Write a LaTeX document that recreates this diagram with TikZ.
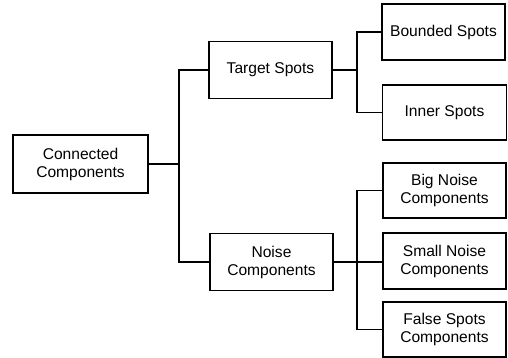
\documentclass[tikz,border=0pt]{standalone}
\usepackage{fontspec}
\setmainfont{Liberation Sans}
\begin{document}
\begin{tikzpicture}[x=1pt,y=-1pt,
  box/.style={draw, line width=1.2pt, rectangle, align=center, inner sep=0pt,
    font=\fontsize{15.6}{18}\selectfont},
  link/.style={draw, line width=1.2pt}]
\useasboundingbox (0,0) rectangle (508,358);
% root
\node[box, minimum width=135pt, minimum height=58pt] (cc) at (80.5,164) {Connected\\Components};
% second level
\node[box, minimum width=123pt, minimum height=57pt] (ts) at (270.5,70) {Target Spots};
\node[box, minimum width=123pt, minimum height=57pt] (nc) at (271.5,262) {Noise\\Components};
% leaves
\node[box, minimum width=123pt, minimum height=56pt] (bs) at (443.5,32) {Bounded Spots};
\node[box, minimum width=124pt, minimum height=55pt] (is) at (444.5,112.5) {Inner Spots};
\node[box, minimum width=123pt, minimum height=55pt] (bn) at (444.5,190.5) {Big Noise\\Components};
\node[box, minimum width=123pt, minimum height=56pt] (sn) at (444.5,261) {Small Noise\\Components};
\node[box, minimum width=123pt, minimum height=55pt] (fs) at (444.5,329.5) {False Spots\\Components};
% elbow connectors
\coordinate (t1) at (179,0);
\coordinate (t2) at (357,0);
\draw[link] (cc.east) -- (cc.east -| t1);
\draw[link] (ts.west) -- (ts.west -| t1) -- (nc.west -| t1) -- (nc.west);
\draw[link] (ts.east) -- (ts.east -| t2);
\draw[link] (bs.west) -- (bs.west -| t2) -- (is.west -| t2) -- (is.west);
\draw[link] (nc.east) -- (nc.east -| sn.west);
\draw[link] (bn.west) -- (bn.west -| t2) -- (fs.west -| t2) -- (fs.west);
\end{tikzpicture}
\end{document}
